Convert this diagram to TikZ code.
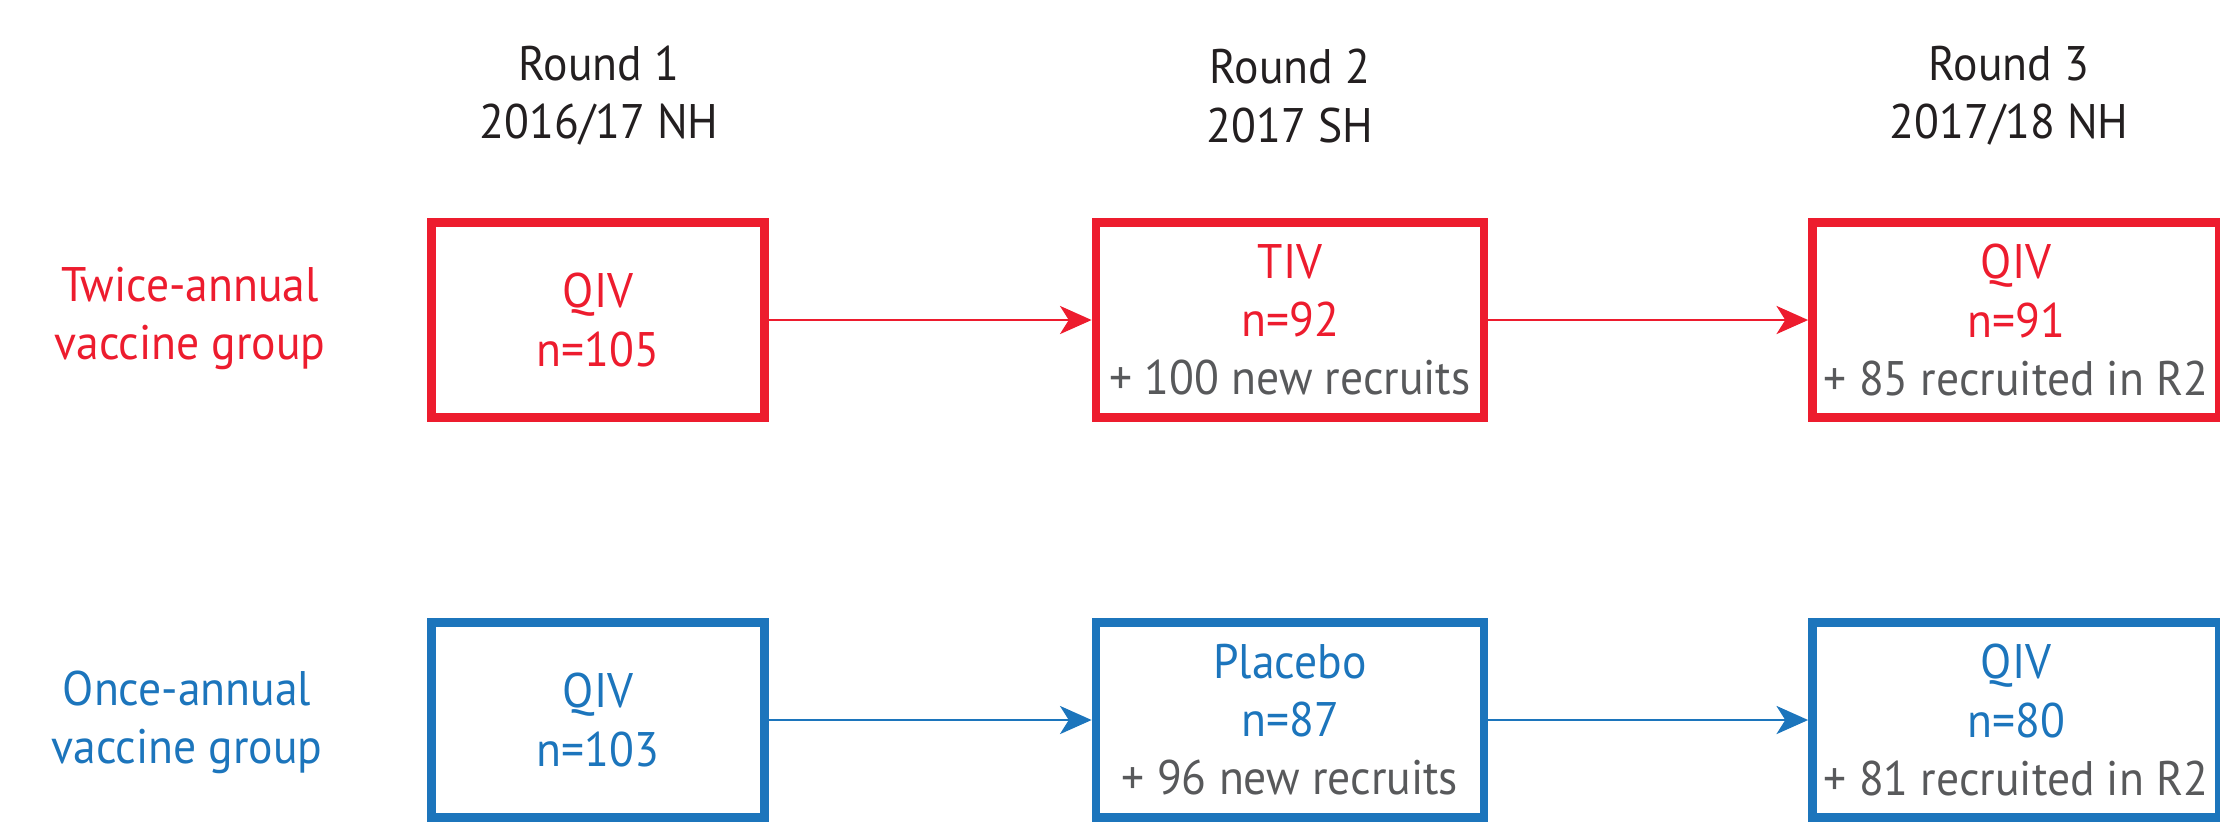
\documentclass[tikz,border=0pt]{standalone}
\usepackage{fontspec}
\setmainfont[FakeStretch=0.94]{PT Sans}
\usetikzlibrary{arrows.meta}
\definecolor{twice}{RGB}{237,28,46}
\definecolor{once}{RGB}{28,117,188}
\definecolor{recruit}{RGB}{88,89,91}
\definecolor{head}{RGB}{35,31,32}

\begin{document}
\begin{tikzpicture}[x=0.01cm,y=-0.01cm,>={Stealth[length=9pt,width=8pt,inset=2.5pt]},
    font=\fontsize{13.8}{16.5}\selectfont,
    vac node/.style={rectangle,draw,line width=0.085cm,minimum height=1.945cm,align=center,inner sep=0pt},
    grp node/.style={align=center},
    head node/.style={align=center,text=head}]
  \useasboundingbox (0,0) rectangle (2220,823);
  \clip (0,0) rectangle (2220,823);
  % rounds
  \node[head node] (r1) at (599,96) {Round 1\\2016/17 NH};
  \node[head node] (r2) at (1290,96) {Round 2\\2017 SH};
  \node[head node] (r3) at (2009,96) {Round 3\\2017/18 NH};
  % twice-annual
  \node[grp node,twice] (tw) at (190,318) {Twice-annual\\vaccine group};
  \node[vac node,twice,minimum width=3.33cm] (t1) at (598,320) {QIV\\n=105};
  \node[vac node,twice,minimum width=3.88cm] (t2) at (1290,320) {TIV\\n=92\\\textcolor{recruit}{+ 100 new recruits}};
  \node[vac node,twice,minimum width=4.07cm] (t3) at (2016,320) {QIV\\n=91\\\textcolor{recruit}{+ 85 recruited in R2}};
  % once-annual
  \node[grp node,once] (on) at (187,722) {Once-annual\\vaccine group};
  \node[vac node,once,minimum width=3.33cm] (o1) at (598,720) {QIV\\n=103};
  \node[vac node,once,minimum width=3.88cm] (o2) at (1290,720) {Placebo\\n=87\\\textcolor{recruit}{+ 96 new recruits}};
  \node[vac node,once,minimum width=4.07cm] (o3) at (2016,720) {QIV\\n=80\\\textcolor{recruit}{+ 81 recruited in R2}};
  \path[->,line width=0.7pt]
    (t1) edge[twice] (t2)
    (t2) edge[twice] (t3)
    (o1) edge[once] (o2)
    (o2) edge[once] (o3);
\end{tikzpicture}
\end{document}
